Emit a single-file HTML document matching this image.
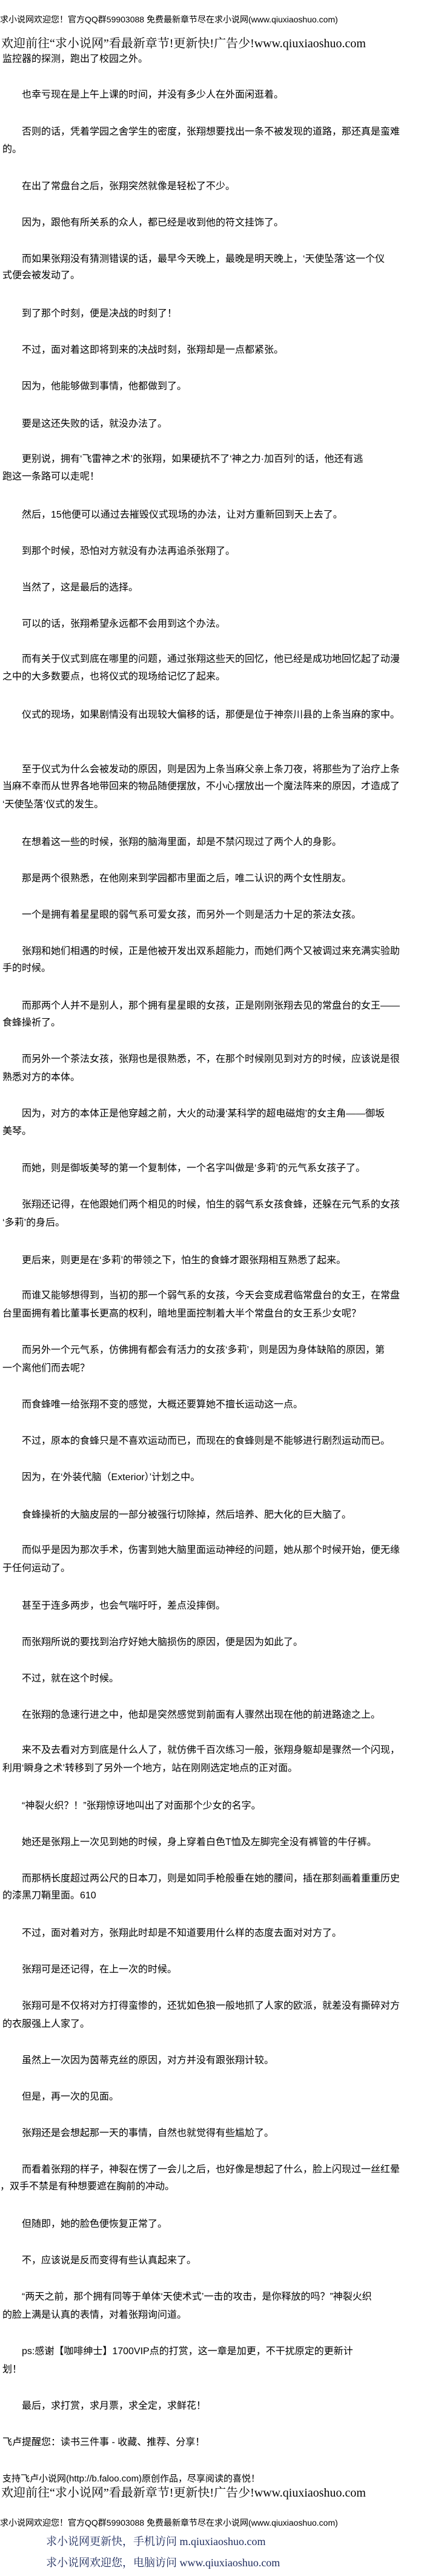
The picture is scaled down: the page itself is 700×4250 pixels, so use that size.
<!DOCTYPE html>
<html><head><meta charset="utf-8"><style>
html,body{margin:0;padding:0;background:#fff;}
body{width:700px;height:4250px;position:relative;overflow:hidden;font-family:"Liberation Sans","Noto Sans CJK SC","WenQuanYi Zen Hei",sans-serif;color:#000;}
.l{position:absolute;left:4px;height:30px;line-height:30px;font-size:16px;white-space:nowrap;}
.i{left:36px;}
.s{font-size:14px;left:0;}
.h{font-family:"Liberation Serif","Noto Serif CJK SC","Noto Sans CJK SC",serif;font-size:20px;left:2px;}
.n{color:#1c2a5c;font-size:18px;left:76px;font-family:"Liberation Serif","Noto Serif CJK SC",serif;}
</style></head><body>
<div class="l s" style="top:17px">求小说网欢迎您！官方QQ群59903088 免费最新章节尽在求小说网(www.qiuxiaoshuo.com)</div>
<div class="l h" style="top:57px">欢迎前往“求小说网”看最新章节!更新快!广告少!www.qiuxiaoshuo.com</div>
<div class="l" style="top:83px">监控器的探测，跑出了校园之外。</div>
<div class="l i" style="top:142px">也幸亏现在是上午上课的时间，并没有多少人在外面闲逛着。</div>
<div class="l i" style="top:203px">否则的话，凭着学园之舍学生的密度，张翔想要找出一条不被发现的道路，那还真是蛮难</div>
<div class="l" style="top:232px">的。</div>
<div class="l i" style="top:293px">在出了常盘台之后，张翔突然就像是轻松了不少。</div>
<div class="l i" style="top:353px">因为，跟他有所关系的众人，都已经是收到他的符文挂饰了。</div>
<div class="l i" style="top:413px">而如果张翔没有猜测错误的话，最早今天晚上，最晚是明天晚上，‘天使坠落’这一个仪</div>
<div class="l" style="top:440px">式便会被发动了。</div>
<div class="l i" style="top:503px">到了那个时刻，便是决战的时刻了！</div>
<div class="l i" style="top:563px">不过，面对着这即将到来的决战时刻，张翔却是一点都紧张。</div>
<div class="l i" style="top:623px">因为，他能够做到事情，他都做到了。</div>
<div class="l i" style="top:685px">要是这还失败的话，就没办法了。</div>
<div class="l i" style="top:743px">更别说，拥有‘飞雷神之术’的张翔，如果硬抗不了‘神之力·加百列’的话，他还有逃</div>
<div class="l" style="top:772px">跑这一条路可以走呢！</div>
<div class="l i" style="top:835px">然后，15他便可以通过去摧毁仪式现场的办法，让对方重新回到天上去了。</div>
<div class="l i" style="top:895px">到那个时候，恐怕对方就没有办法再追杀张翔了。</div>
<div class="l i" style="top:955px">当然了，这是最后的选择。</div>
<div class="l i" style="top:1015px">可以的话，张翔希望永远都不会用到这个办法。</div>
<div class="l i" style="top:1073px">而有关于仪式到底在哪里的问题，通过张翔这些天的回忆，他已经是成功地回忆起了动漫</div>
<div class="l" style="top:1102px">之中的大多数要点，也将仪式的现场给记忆了起来。</div>
<div class="l i" style="top:1165px">仪式的现场，如果剧情没有出现较大偏移的话，那便是位于神奈川县的上条当麻的家中。</div>
<div class="l i" style="top:1255px">至于仪式为什么会被发动的原因，则是因为上条当麻父亲上条刀夜，将那些为了治疗上条</div>
<div class="l" style="top:1283px">当麻不幸而从世界各地带回来的物品随便摆放，不小心摆放出一个魔法阵来的原因，才造成了</div>
<div class="l" style="top:1313px">‘天使坠落’仪式的发生。</div>
<div class="l i" style="top:1375px">在想着这一些的时候，张翔的脑海里面，却是不禁闪现过了两个人的身影。</div>
<div class="l i" style="top:1435px">那是两个很熟悉，在他刚来到学园都市里面之后，唯二认识的两个女性朋友。</div>
<div class="l i" style="top:1495px">一个是拥有着星星眼的弱气系可爱女孩，而另外一个则是活力十足的茶法女孩。</div>
<div class="l i" style="top:1555px">张翔和她们相遇的时候，正是他被开发出双系超能力，而她们两个又被调过来充满实验助</div>
<div class="l" style="top:1583px">手的时候。</div>
<div class="l i" style="top:1645px">而那两个人并不是别人，那个拥有星星眼的女孩，正是刚刚张翔去见的常盘台的女王——</div>
<div class="l" style="top:1673px">食蜂操祈了。</div>
<div class="l i" style="top:1733px">而另外一个茶法女孩，张翔也是很熟悉，不，在那个时候刚见到对方的时候，应该说是很</div>
<div class="l" style="top:1763px">熟悉对方的本体。</div>
<div class="l i" style="top:1823px">因为，对方的本体正是他穿越之前，大火的动漫‘某科学的超电磁炮’的女主角——御坂</div>
<div class="l" style="top:1852px">美琴。</div>
<div class="l i" style="top:1913px">而她，则是御坂美琴的第一个复制体，一个名字叫做是‘多莉’的元气系女孩子了。</div>
<div class="l i" style="top:1973px">张翔还记得，在他跟她们两个相见的时候，怕生的弱气系女孩食蜂，还躲在元气系的女孩</div>
<div class="l" style="top:2003px">‘多莉’的身后。</div>
<div class="l i" style="top:2065px">更后来，则更是在‘多莉’的带领之下，怕生的食蜂才跟张翔相互熟悉了起来。</div>
<div class="l i" style="top:2123px">而谁又能够想得到，当初的那一个弱气系的女孩，今天会变成君临常盘台的女王，在常盘</div>
<div class="l" style="top:2153px">台里面拥有着比董事长更高的权利，暗地里面控制着大半个常盘台的女王系少女呢？</div>
<div class="l i" style="top:2213px">而另外一个元气系，仿佛拥有都会有活力的女孩‘多莉’，则是因为身体缺陷的原因，第</div>
<div class="l" style="top:2243px">一个离他们而去呢？</div>
<div class="l i" style="top:2303px">而食蜂唯一给张翔不变的感觉，大概还要算她不擅长运动这一点。</div>
<div class="l i" style="top:2363px">不过，原本的食蜂只是不喜欢运动而已，而现在的食蜂则是不能够进行剧烈运动而已。</div>
<div class="l i" style="top:2423px">因为，在‘外装代脑（Exterior）’计划之中。</div>
<div class="l i" style="top:2485px">食蜂操祈的大脑皮层的一部分被强行切除掉，然后培养、肥大化的巨大脑了。</div>
<div class="l i" style="top:2543px">而似乎是因为那次手术，伤害到她大脑里面运动神经的问题，她从那个时候开始，便无缘</div>
<div class="l" style="top:2573px">于任何运动了。</div>
<div class="l i" style="top:2635px">甚至于连多两步，也会气喘吁吁，差点没摔倒。</div>
<div class="l i" style="top:2695px">而张翔所说的要找到治疗好她大脑损伤的原因，便是因为如此了。</div>
<div class="l i" style="top:2755px">不过，就在这个时候。</div>
<div class="l i" style="top:2815px">在张翔的急速行进之中，他却是突然感觉到前面有人骤然出现在他的前进路途之上。</div>
<div class="l i" style="top:2873px">来不及去看对方到底是什么人了，就仿佛千百次练习一般，张翔身躯却是骤然一个闪现，</div>
<div class="l" style="top:2903px">利用‘瞬身之术’转移到了另外一个地方，站在刚刚选定地点的正对面。</div>
<div class="l i" style="top:2965px">“神裂火织？！”张翔惊讶地叫出了对面那个少女的名字。</div>
<div class="l i" style="top:3025px">她还是张翔上一次见到她的时候，身上穿着白色T恤及左脚完全没有裤管的牛仔裤。</div>
<div class="l i" style="top:3085px">而那柄长度超过两公尺的日本刀，则是如同手枪般垂在她的腰间，插在那刻画着重重历史</div>
<div class="l" style="top:3113px">的漆黑刀鞘里面。610</div>
<div class="l i" style="top:3175px">不过，面对着对方，张翔此时却是不知道要用什么样的态度去面对对方了。</div>
<div class="l i" style="top:3235px">张翔可是还记得，在上一次的时候。</div>
<div class="l i" style="top:3295px">张翔可是不仅将对方打得蛮惨的，还犹如色狼一般地抓了人家的欧派，就差没有撕碎对方</div>
<div class="l" style="top:3325px">的衣服强上人家了。</div>
<div class="l i" style="top:3385px">虽然上一次因为茵蒂克丝的原因，对方并没有跟张翔计较。</div>
<div class="l i" style="top:3445px">但是，再一次的见面。</div>
<div class="l i" style="top:3505px">张翔还是会想起那一天的事情，自然也就觉得有些尴尬了。</div>
<div class="l i" style="top:3565px">而看着张翔的样子，神裂在愣了一会儿之后，也好像是想起了什么，脸上闪现过一丝红晕</div>
<div class="l" style="top:3593px;left:0">，双手不禁是有种想要遮在胸前的冲动。</div>
<div class="l i" style="top:3655px">但随即，她的脸色便恢复正常了。</div>
<div class="l i" style="top:3715px">不，应该说是反而变得有些认真起来了。</div>
<div class="l i" style="top:3775px">“两天之前，那个拥有同等于单体‘天使术式’一击的攻击，是你释放的吗？”神裂火织</div>
<div class="l" style="top:3805px">的脸上满是认真的表情，对着张翔询问道。</div>
<div class="l i" style="top:3865px">ps:感谢【咖啡绅士】1700VIP点的打赏，这一章是加更，不干扰原定的更新计</div>
<div class="l" style="top:3895px">划！</div>
<div class="l i" style="top:3955px">最后，求打赏，求月票，求全定，求鲜花！</div>
<div class="l" style="top:4015px">飞卢提醒您：读书三件事 - 收藏、推荐、分享！</div>
<div class="l" style="top:4075px;font-size:15px">支持飞卢小说网(http://b.faloo.com)原创作品，尽享阅读的喜悦！</div>
<div class="l h" style="top:4098px">欢迎前往“求小说网”看最新章节!更新快!广告少!www.qiuxiaoshuo.com</div>
<div class="l s" style="top:4147px">求小说网欢迎您！官方QQ群59903088 免费最新章节尽在求小说网(www.qiuxiaoshuo.com)</div>
<div class="l n" style="top:4178px">求小说网更新快，手机访问 m.qiuxiaoshuo.com</div>
<div class="l n" style="top:4213px">求小说网欢迎您，电脑访问 www.qiuxiaoshuo.com</div>
</body></html>
